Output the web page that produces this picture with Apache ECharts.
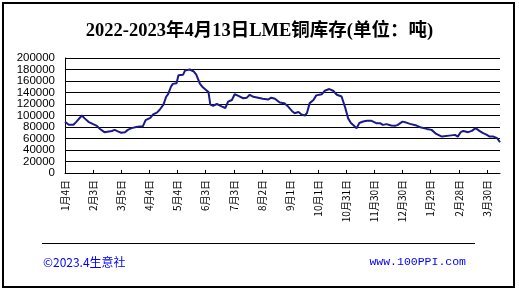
<!DOCTYPE html>
<html>
<head>
<meta charset="utf-8">
<script src="https://cdn.jsdelivr.net/npm/echarts@6/dist/echarts.min.js"></script>
<style>
html,body{margin:0;padding:0;background:#fff;}
#chart{width:519px;height:292px;}
</style>
</head>
<body>
<div id="chart"></div>
<script>
var startDate = '2022-01-04';
var endDate = '2023-04-13';
var dates = ['2022-01-04','2022-01-08','2022-01-13','2022-01-16','2022-01-22','2022-01-25','2022-01-29',
'2022-02-03','2022-02-07','2022-02-10','2022-02-15','2022-02-17','2022-02-23','2022-02-26',
'2022-03-02','2022-03-05','2022-03-09','2022-03-12','2022-03-16','2022-03-21','2022-03-25','2022-03-28','2022-03-31',
'2022-04-05','2022-04-08','2022-04-12','2022-04-15','2022-04-19','2022-04-22','2022-04-24','2022-04-27','2022-04-29',
'2022-05-03','2022-05-05','2022-05-10','2022-05-12','2022-05-17','2022-05-21','2022-05-24','2022-05-28','2022-05-31',
'2022-06-06','2022-06-08','2022-06-11','2022-06-15','2022-06-20','2022-06-24','2022-06-27',
'2022-07-01','2022-07-04','2022-07-08','2022-07-13','2022-07-17','2022-07-20','2022-07-24','2022-07-29',
'2022-08-03','2022-08-09','2022-08-12','2022-08-16','2022-08-21','2022-08-26','2022-08-30',
'2022-09-03','2022-09-06','2022-09-10','2022-09-13','2022-09-17','2022-09-19','2022-09-22','2022-09-26','2022-09-29',
'2022-10-05','2022-10-08','2022-10-13','2022-10-17','2022-10-21','2022-10-26','2022-10-30',
'2022-11-02','2022-11-05','2022-11-08','2022-11-11','2022-11-14','2022-11-18','2022-11-22','2022-11-27',
'2022-12-02','2022-12-06','2022-12-09','2022-12-13','2022-12-18','2022-12-22','2022-12-25','2022-12-30',
'2023-01-03','2023-01-07','2023-01-14','2023-01-19','2023-01-25','2023-01-30',
'2023-02-04','2023-02-10','2023-02-11','2023-02-18','2023-02-24','2023-02-27',
'2023-03-02','2023-03-05','2023-03-10','2023-03-14','2023-03-18','2023-03-22','2023-03-26','2023-03-30',
'2023-04-02','2023-04-06','2023-04-10','2023-04-13'];
var stock = [89000,84000,84000,89000,100000,95000,89000,
85000,82000,77000,71000,73000,73000,75000,
72000,70000,71000,75000,78000,80000,81000,81000,92000,
96000,102000,105000,110000,119000,133000,137000,150000,155000,
156000,170000,171000,178000,180000,177000,171000,155000,149000,
141000,119000,117000,120000,116000,113000,124000,
127000,137000,134000,130000,131000,136000,132500,131000,
129000,128000,131000,129000,122500,121500,115600,
108000,104000,106000,102000,100000,104000,121500,127000,135000,
137000,143000,146000,143000,136000,133000,113000,
95000,87000,82500,78000,87000,89500,90700,90700,
86700,86700,83700,85000,82500,82000,83700,89400,
87700,85400,82500,79000,76700,75000,
68000,63300,65000,65000,66300,63300,
71000,73200,71000,73200,78000,73200,69200,66300,
63300,63300,60500,53500];
var tickLabels = ['1月4日','2月3日','3月5日','4月4日','5月4日','6月3日','7月3日','8月2日','9月1日','10月1日','10月31日','11月30日','12月30日','1月29日','2月28日','3月30日'];
var yTicks = [0,20000,40000,60000,80000,100000,120000,140000,160000,180000,200000];

function dayOff(s){
  var p = s.split('-'), q = startDate.split('-');
  return Math.round((Date.UTC(+p[0],+p[1]-1,+p[2]) - Date.UTC(+q[0],+q[1]-1,+q[2]))/86400000);
}
var tickStep = 30;
var tickVals = tickLabels.map(function(_,i){return i*tickStep;});
var seriesData = dates.map(function(d,i){return [dayOff(d), stock[i]];});

var baseGraphics = [
  {type:'rect',shape:{x:3,y:3,width:511,height:284},style:{fill:null,stroke:'#000',lineWidth:2},silent:true},
  {type:'line',shape:{x1:42,y1:243.5,x2:475,y2:243.5},style:{stroke:'#000',lineWidth:1},silent:true},
  {type:'text',left:43,top:256,style:{text:'©2023.4生意社',fill:'#0000ff',font:'12px "Noto Sans CJK SC", sans-serif'}},
  {type:'text',right:519-466,top:256,style:{text:'www.100PPI.com',fill:'#0000ff',font:'11.5px "Liberation Mono", monospace'}}
];

var chart = echarts.init(document.getElementById('chart'));
chart.setOption({
  animation:false,
  backgroundColor:'#fff',
  title:{
    text:'2022-2023年4月13日LME铜库存(单位：吨)',
    left:'center', top:17,
    textStyle:{fontSize:18.5,fontWeight:'bold',color:'#000',fontFamily:'"Liberation Serif","Noto Sans CJK SC",serif'}
  },
  grid:{left:65,right:19,top:58,bottom:119,containLabel:false},
  xAxis:{
    type:'value', min:0, max:dayOff(endDate), interval:tickStep,
    axisLine:{show:true,lineStyle:{color:'#000',width:1}},
    axisTick:{show:true,inside:true,length:3,lineStyle:{color:'#000'},customValues:tickVals},
    axisLabel:{rotate:90,margin:7,fontSize:10,color:'#000',fontFamily:'"Noto Sans CJK SC",sans-serif',
      customValues:tickVals,
      formatter:function(v){var i=Math.round(v/tickStep);return tickLabels[i]||'';}},
    splitLine:{show:false}
  },
  yAxis:{
    type:'value', min:yTicks[0], max:yTicks[yTicks.length-1], interval:yTicks[1]-yTicks[0],
    axisLine:{show:true,lineStyle:{color:'#000',width:1}},
    axisTick:{show:false},
    axisLabel:{show:false},
    splitLine:{show:true,lineStyle:{color:'#000',width:1}}
  },
  series:[{
    type:'line', data:seriesData, showSymbol:false, symbol:'none',
    lineStyle:{color:'#1a1a8a',width:2}
  }],
  graphic:baseGraphics
});

// y-axis labels positioned through the axis scale
var yLabelGraphics = yTicks.map(function(v){
  var py = chart.convertToPixel({yAxisIndex:0}, v);
  return {type:'text', x:55, y:py, silent:true,
    style:{text:String(v), fill:'#000', font:'11.5px "Liberation Sans", Arial, sans-serif',
      align:'right', verticalAlign:'middle'}};
});
chart.setOption({graphic:baseGraphics.concat(yLabelGraphics)});
</script>
</body>
</html>
